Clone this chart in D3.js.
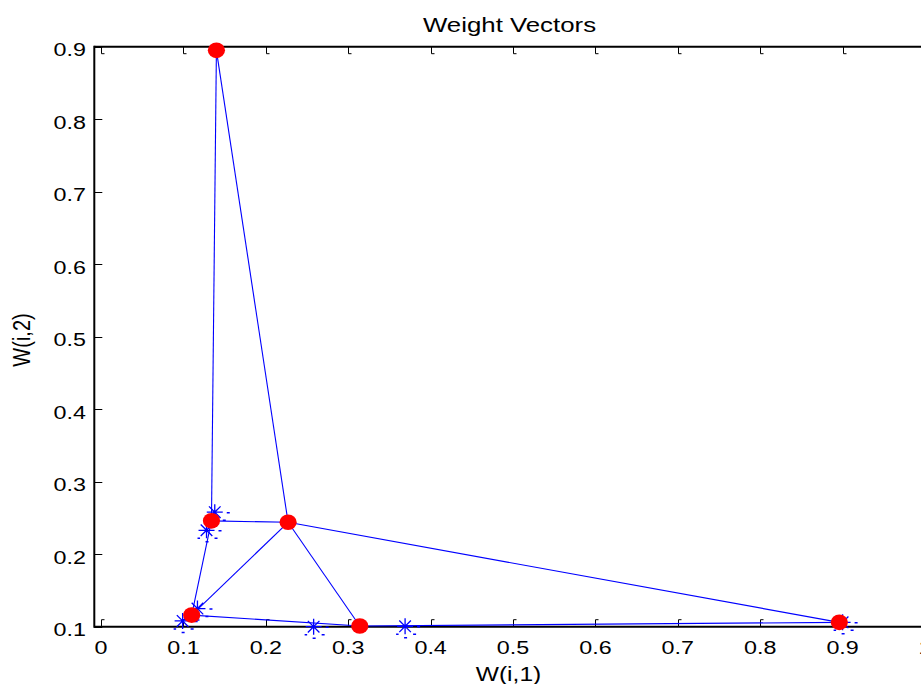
<!DOCTYPE html>
<html>
<head>
<meta charset="utf-8">
<script src="https://cdn.jsdelivr.net/npm/d3@7"></script>
<style>
  html, body { margin: 0; padding: 0; background: #fff; overflow: hidden; }
  svg { display: block; }
  text { font-family: "Liberation Sans", Arial, sans-serif; fill: #000; }
</style>
</head>
<body>
<svg id="chart" width="921" height="684"></svg>
<script>
// ---- data ----
const chartTitle = "Weight Vectors";
const xLabel = "W(i,1)";
const yLabel = "W(i,2)";
const xTicks = [0, 0.1, 0.2, 0.3, 0.4, 0.5, 0.6, 0.7, 0.8, 0.9, 1];
const yTicks = [0.1, 0.2, 0.3, 0.4, 0.5, 0.6, 0.7, 0.8, 0.9];
// SOM neuron weight vectors (neurons 1..6)
const weightX = [0.140, 0.134, 0.227, 0.110, 0.896, 0.314];
const weightY = [0.895, 0.246, 0.244, 0.116, 0.106, 0.101];
// neighbour links (neuron index pairs)
const linkFrom = [0, 0, 1, 1, 2, 2, 2, 3, 4];
const linkTo   = [1, 2, 2, 3, 3, 4, 5, 5, 5];
// input vectors
const inputX = [0.138, 0.128, 0.117, 0.099, 0.258, 0.369, 0.900];
const inputY = [0.258, 0.233, 0.125, 0.108, 0.100, 0.1005, 0.106];

// ---- layout ----
const axLeft = 94.3, axRight = 925, axTop = 46.7, axBottom = 626.7;
const stretch = 1.26;
const svg = d3.select("#chart");
svg.append("rect").attr("width", 921).attr("height", 684).attr("fill", "#fff");

const x = d3.scaleLinear().domain([-0.0082, 1.0]).range([axLeft, axRight]);
const y = d3.scaleLinear().domain([0.1, 0.9]).range([axBottom, axTop]);

// axes box lines
const axisG = svg.append("g");
axisG.append("line").attr("x1", axLeft).attr("x2", axRight).attr("y1", axBottom).attr("y2", axBottom)
  .attr("stroke", "#000").attr("stroke-width", 2);
axisG.append("line").attr("x1", axLeft).attr("x2", axRight).attr("y1", axTop).attr("y2", axTop)
  .attr("stroke", "#000").attr("stroke-width", 2);
axisG.append("line").attr("x1", axLeft).attr("x2", axLeft).attr("y1", axTop - 1).attr("y2", axBottom + 1)
  .attr("stroke", "#000").attr("stroke-width", 2);

// x ticks (bottom + top), inward with small hooks
xTicks.forEach(t => {
  const px = Math.round(x(t)) + 0.5;
  axisG.append("path").attr("d", `M${px},${axBottom} V${axBottom - 7} h3`)
    .attr("fill", "none").attr("stroke", "#000").attr("stroke-width", 1);
  axisG.append("path").attr("d", `M${px},${axTop} V${axTop + 7} h3`)
    .attr("fill", "none").attr("stroke", "#000").attr("stroke-width", 1);
});
// y ticks (left), inward
yTicks.forEach(t => {
  const py = Math.round(y(t)) + 0.5;
  axisG.append("line").attr("x1", axLeft).attr("x2", axLeft + 8).attr("y1", py).attr("y2", py)
    .attr("stroke", "#000").attr("stroke-width", 1);
});

function stretchedText(g, str, tx, ty, size, anchor, extra) {
  return g.append("text")
    .attr("transform", `translate(${tx},${ty}) scale(${stretch},1)` + (extra || ""))
    .attr("text-anchor", anchor)
    .style("font-size", size + "px")
    .text(str);
}

const fmt = d => (d === 0 ? "0" : d === 1 ? "1" : d3.format(".1f")(d));
xTicks.forEach(t => stretchedText(axisG, fmt(t), x(t), axBottom + 26.8, 18.5, "middle"));
yTicks.forEach(t => stretchedText(axisG, fmt(t), 86, y(t) + 9.5, 18.5, "end"));

stretchedText(svg, chartTitle, 509.5, 31.7, 20.5, "middle");
stretchedText(svg, xLabel, 508.5, 680.5, 19.5, "middle");
svg.append("text")
  .attr("transform", `translate(30,340) scale(1.22,1) rotate(-90)`)
  .attr("text-anchor", "middle")
  .style("font-size", "20px")
  .text(yLabel);

// ---- data marks ----
const blue = "#0000ff";
const dataG = svg.append("g");

// input asterisks
const inputs = inputX.map((v, i) => ({ x: v, y: inputY[i] }));
const starG = dataG.selectAll("g.star").data(inputs).join("g")
  .attr("class", "star")
  .attr("transform", d => `translate(${x(d.x)},${y(d.y)})`);
const R = 8, D = 5.8;
starG.append("path")
  .attr("d", `M${-R},0H${R}M0,${-R}V${R}M${-D},${-D}L${D},${D}M${-D},${D}L${D},${-D}`)
  .attr("stroke", blue).attr("stroke-width", 1.3).attr("fill", "none");
// small rendering dashes around the marker
starG.append("path")
  .attr("d", "M12,0.5h3M8,8h3M-1,11.5h3M-9,8h2.5")
  .attr("stroke", blue).attr("stroke-width", 1.5).attr("fill", "none");

// neuron links
const links = linkFrom.map((a, i) => ({ a, b: linkTo[i] }));
dataG.selectAll("line.link").data(links).join("line")
  .attr("class", "link")
  .attr("x1", d => x(weightX[d.a])).attr("y1", d => y(weightY[d.a]))
  .attr("x2", d => x(weightX[d.b])).attr("y2", d => y(weightY[d.b]))
  .attr("stroke", blue).attr("stroke-width", 1.1);

// neuron dots
const neurons = weightX.map((v, i) => ({ x: v, y: weightY[i] }));
dataG.selectAll("ellipse.neuron").data(neurons).join("ellipse")
  .attr("class", "neuron")
  .attr("cx", d => x(d.x)).attr("cy", d => y(d.y))
  .attr("rx", 8.6).attr("ry", 7.8)
  .attr("fill", "#ff0000");
</script>
</body>
</html>
